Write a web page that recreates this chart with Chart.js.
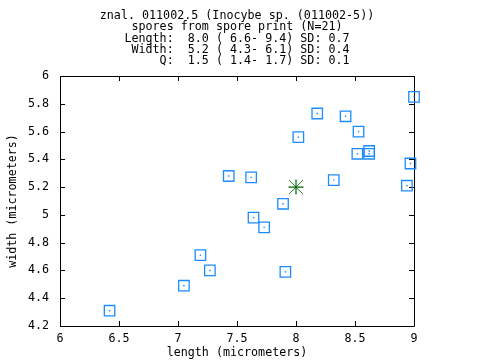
<!DOCTYPE html>
<html>
<head>
<meta charset="utf-8">
<script src="https://cdn.jsdelivr.net/npm/chart.js@4/dist/chart.umd.min.js"></script>
<style>
  html, body { margin: 0; padding: 0; background: #fff; }
  #wrap { width: 480px; height: 360px; }
</style>
</head>
<body>
<div id="wrap"><canvas id="sporeChart"></canvas></div>
<script>
// spore measurements (micrometers)
const lengths = [6.42, 7.05, 7.19, 7.27, 7.43, 7.62, 7.64, 7.73, 7.89, 7.91, 8.02,
                 8.18, 8.32, 8.42, 8.52, 8.53, 8.62, 8.62, 8.94, 8.97, 9.00];
const widths  = [4.31, 4.49, 4.71, 4.60, 5.28, 5.27, 4.98, 4.91, 5.08, 4.59, 5.56,
                 5.73, 5.25, 5.71, 5.44, 5.60, 5.46, 5.44, 5.21, 5.37, 5.85];
const meanLength = [8.0];
const meanWidth = [5.2];

const xTicks = [6, 6.5, 7, 7.5, 8, 8.5, 9];
const yTicks = [4.2, 4.4, 4.6, 4.8, 5, 5.2, 5.4, 5.6, 5.8, 6];

const titleLines = [
    'znal. 011002.5 (Inocybe sp. (011002-5))',
    'spores from spore print (N=21)',
    'Length:  8.0 ( 6.6- 9.4) SD: 0.7',
    ' Width:  5.2 ( 4.3- 6.1) SD: 0.4',
    '     Q:  1.5 ( 1.4- 1.7) SD: 0.1'
];

const blue = '#1a8cff';
const green = '#006400';

const toPoints = (xs, ys) => xs.map((x, i) => ({ x: x, y: ys[i] }));

// gnuplot style frame with inward ticks on all four sides
const framePlugin = {
    id: 'frame',
    beforeDatasetsDraw(chart) {
        const { ctx, chartArea: a, scales } = chart;
        const len = 5;
        ctx.save();
        ctx.strokeStyle = '#000';
        ctx.lineWidth = 1;
        ctx.beginPath();
        ctx.rect(Math.round(a.left) + 0.5, Math.round(a.top) + 0.5,
                 Math.round(a.right - a.left), Math.round(a.bottom - a.top));
        xTicks.forEach(v => {
            const px = Math.round(scales.x.getPixelForValue(v)) + 0.5;
            ctx.moveTo(px, a.bottom); ctx.lineTo(px, a.bottom - len);
            ctx.moveTo(px, a.top); ctx.lineTo(px, a.top + len);
        });
        yTicks.forEach(v => {
            const py = Math.round(scales.y.getPixelForValue(v)) + 0.5;
            ctx.moveTo(a.left, py); ctx.lineTo(a.left + len, py);
            ctx.moveTo(a.right, py); ctx.lineTo(a.right - len, py);
        });
        ctx.stroke();
        ctx.restore();
    }
};

Chart.defaults.font.family = "'DejaVu Sans Mono', monospace";
Chart.defaults.font.size = 11.7;
Chart.defaults.color = '#000';

new Chart(document.getElementById('sporeChart'), {
    type: 'scatter',
    data: {
        datasets: [
            {
                data: toPoints(lengths, widths),
                pointStyle: 'rect',
                pointRadius: 7.4,
                pointBorderWidth: 1.3,
                borderColor: blue,
                backgroundColor: 'rgba(0,0,0,0)',
                clip: false
            },
            {
                data: toPoints(lengths, widths),
                pointStyle: 'rect',
                pointRadius: 1,
                pointBorderWidth: 0,
                borderColor: blue,
                backgroundColor: blue,
                clip: false
            },
            {
                data: toPoints(meanLength, meanWidth),
                pointStyle: 'cross',
                pointRadius: 7.5,
                pointBorderWidth: 1.2,
                borderColor: green
            },
            {
                data: toPoints(meanLength, meanWidth),
                pointStyle: 'crossRot',
                pointRadius: 10,
                pointBorderWidth: 1,
                borderColor: '#2a7a2a'
            }
        ]
    },
    options: {
        responsive: true,
        maintainAspectRatio: false,
        animation: false,
        events: [],
        layout: { padding: { left: 0, right: 66, top: 0, bottom: 0 } },
        plugins: {
            legend: { display: false },
            tooltip: { enabled: false },
            title: {
                display: true,
                fullSize: false,
                text: titleLines,
                font: { weight: 'normal', size: 11.7, lineHeight: '11.1px' },
                padding: { top: 10.8, bottom: 9.7 }
            }
        },
        scales: {
            x: {
                type: 'linear',
                min: 6,
                max: 9,
                grid: { display: false },
                border: { display: false },
                afterBuildTicks: s => { s.ticks = xTicks.map(v => ({ value: v })); },
                afterFit: s => { s.height = 34; },
                ticks: { padding: -2, maxRotation: 0, callback: v => String(v) },
                title: { display: true, text: 'length (micrometers)', padding: 0 }
            },
            y: {
                type: 'linear',
                min: 4.2,
                max: 6,
                grid: { display: false },
                border: { display: false },
                afterBuildTicks: s => { s.ticks = yTicks.map(v => ({ value: v })); },
                afterFit: s => { s.width = 60; },
                ticks: { padding: 3, callback: v => String(v) },
                title: { display: true, text: 'width (micrometers)', padding: { top: 6, bottom: 0 } }
            }
        }
    },
    plugins: [framePlugin]
});
</script>
</body>
</html>
